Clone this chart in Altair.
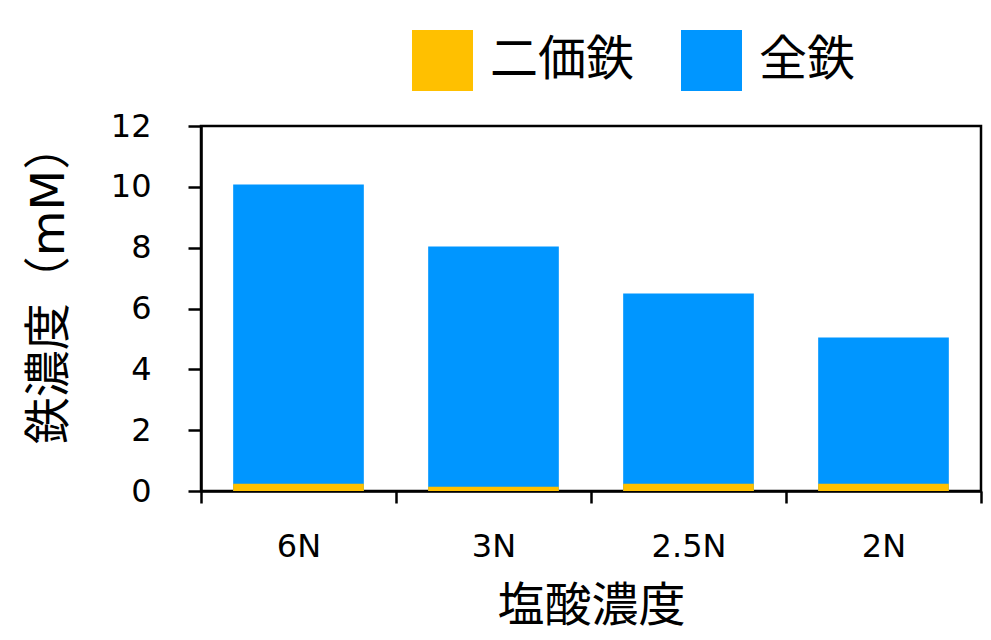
import altair as alt
import pandas as pd

categories = ["6N", "3N", "2.5N", "2N"]
total_fe = [10.08, 8.04, 6.49, 5.05]
ferrous_fe = [0.24, 0.14, 0.24, 0.24]
series = ["二価鉄", "全鉄"]
colors = ["#FFC000", "#0096FF"]
y_ticks = [0, 2, 4, 6, 8, 10, 12]

rows = []
for c, t in zip(categories, total_fe):
    rows.append({"cat": c, "series": "全鉄", "value": t})
for c, f in zip(categories, ferrous_fe):
    rows.append({"cat": c, "series": "二価鉄", "value": f})
df = pd.DataFrame(rows)

FONT = "DejaVu Sans, Noto Sans CJK JP"

x_enc = alt.X(
    "cat:N",
    sort=categories,
    scale=alt.Scale(paddingInner=0, paddingOuter=0),
    axis=alt.Axis(
        title="塩酸濃度",
        labelAngle=0,
        tickBand="extent",
        tickSize=12,
        tickWidth=2.5,
        tickColor="black",
        domainColor="black",
        domainWidth=2.5,
        labelFontSize=32,
        labelPadding=28,
        labelColor="black",
        labelFont=FONT,
        titleFont=FONT,
        titleFontSize=47,
        titleFontWeight="normal",
        titleColor="black",
        titleX=390,
        titleY=115,
        titleBaseline="middle",
        titleAlign="center",
        grid=False,
    ),
)
y_enc = alt.Y(
    "value:Q",
    scale=alt.Scale(domain=[0, 12], nice=False),
    axis=alt.Axis(
        title="鉄濃度（mM）",
        values=y_ticks,
        tickSize=13,
        tickWidth=2.5,
        tickColor="black",
        domainColor="black",
        domainWidth=2.5,
        labelFontSize=32,
        labelPadding=37,
        labelColor="black",
        labelFont=FONT,
        titleFont=FONT,
        titleFontSize=47,
        titleFontWeight="normal",
        titleColor="black",
        titleAngle=270,
        titleX=-152,
        titleY=157,
        titleBaseline="middle",
        titleAlign="center",
        grid=False,
    ),
    stack=None,
)
color_enc = alt.Color(
    "series:N",
    scale=alt.Scale(domain=series, range=colors),
    legend=alt.Legend(
        title=None,
        orient="none",
        direction="horizontal",
        legendX=211,
        legendY=-96,
        symbolType="square",
        symbolSize=3721,
        symbolStrokeWidth=0,
        symbolOpacity=1,
        labelFontSize=48,
        labelFont=FONT,
        labelColor="black",
        labelOffset=17,
        columnPadding=46,
        labelLimit=400,
    ),
)

base = alt.Chart(df)
blue = base.transform_filter(alt.datum.series == "全鉄").mark_bar(
    opacity=1, width={"band": 0.67}
).encode(x=x_enc, y=y_enc, color=color_enc)
orange = base.transform_filter(alt.datum.series == "二価鉄").mark_bar(
    opacity=1, width={"band": 0.67}
).encode(x=x_enc, y=y_enc, color=color_enc)

chart = (
    alt.layer(blue, orange)
    .properties(
        width=780,
        height=365,
        autosize=alt.AutoSizeParams(type="none"),
        padding={"left": 193, "top": 118, "right": 2, "bottom": 141},
        background="white",
    )
    .configure_view(stroke="black", strokeWidth=2.5)
)

chart.save("out.html", embed_options={"renderer": "svg", "actions": False})
